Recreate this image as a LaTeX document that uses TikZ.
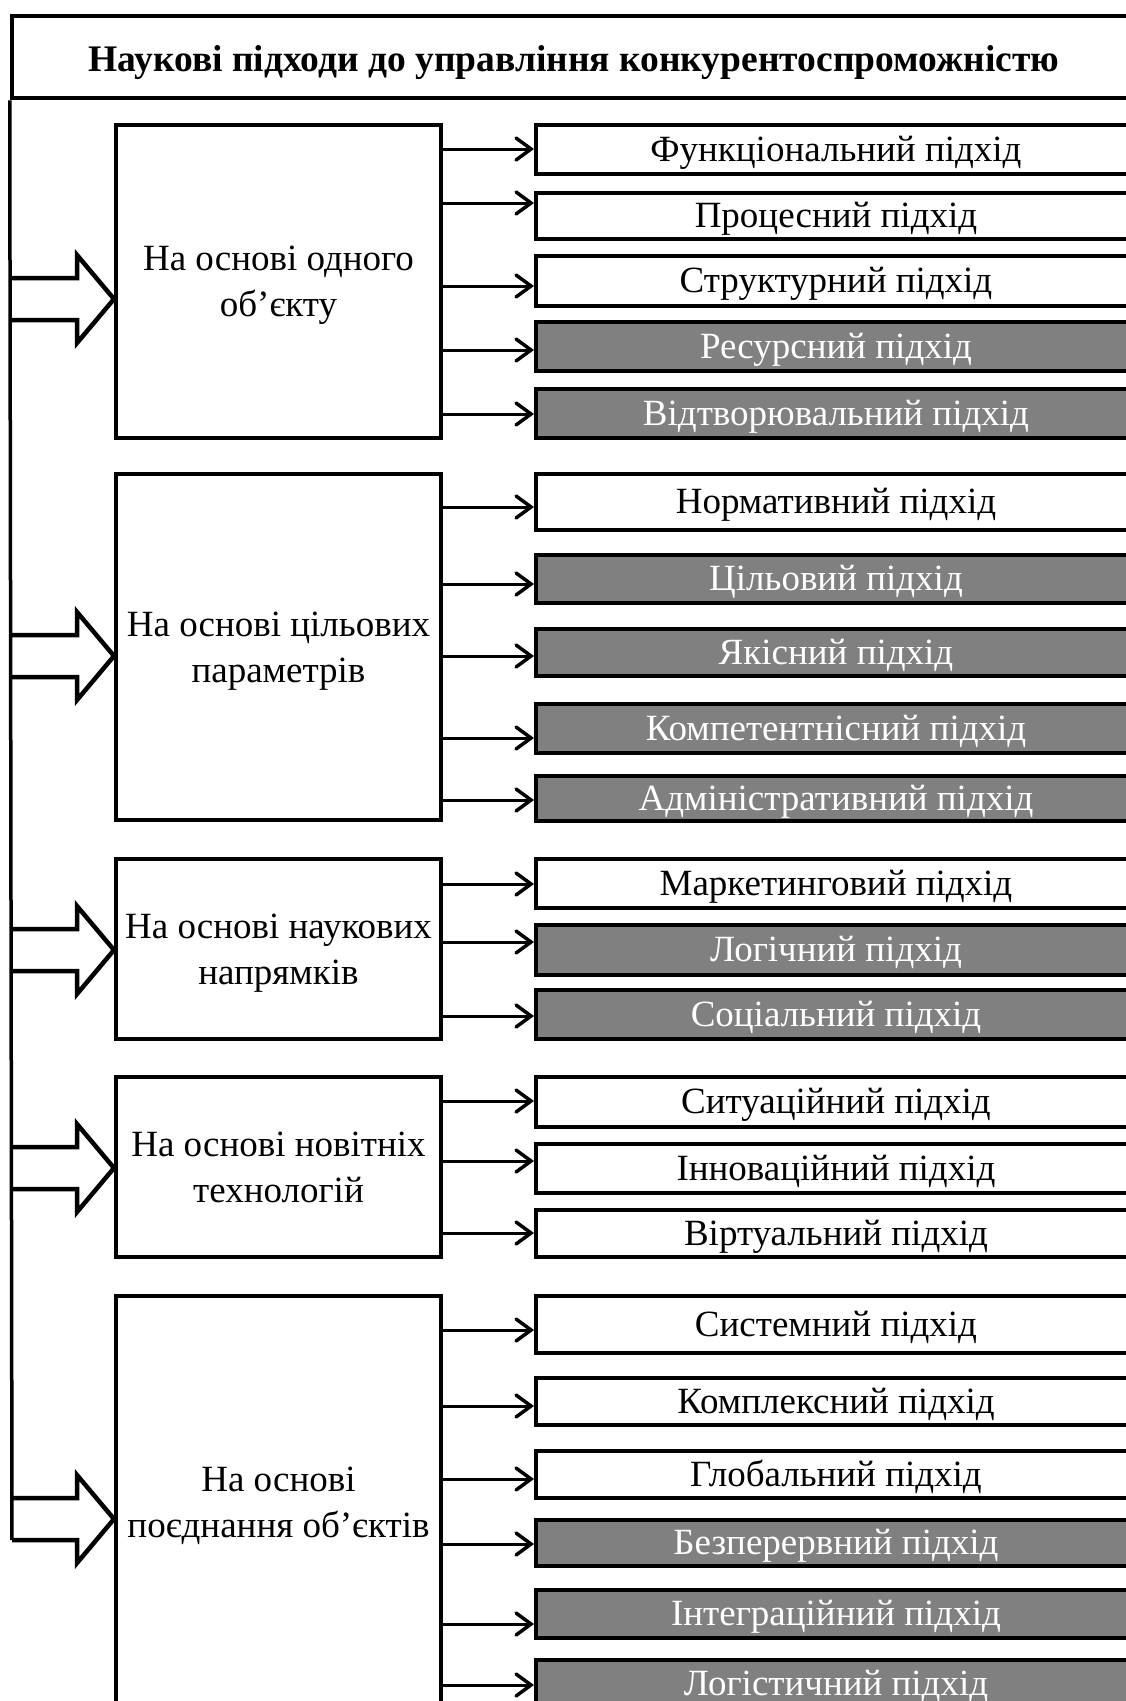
\documentclass[tikz,border=0pt]{standalone}
\usepackage{fontspec}
\setmainfont{Liberation Serif}
\usetikzlibrary{arrows.meta}
\definecolor{gfill}{RGB}{128,128,128}
\begin{document}
\begin{tikzpicture}[x=1pt,y=-1pt,
  box/.style={draw, line width=4pt, inner sep=0pt, align=center},
  rbox/.style={box, minimum width=600pt, anchor=west, font=\fontsize{37}{44}\selectfont, text height=29pt, text depth=6pt},
  wbox/.style={rbox, fill=white},
  gbox/.style={rbox, fill=gfill, text=white},
  lbox/.style={box, minimum width=325pt, font=\fontsize{37}{46}\selectfont, text depth=0pt},
  titlebox/.style={box, line width=4.5pt, minimum width=1124pt, minimum height=82pt, text height=31pt, text depth=2pt, font=\bfseries\fontsize{37.5}{44}\selectfont},
  conn/.style={line width=3pt, -{Straight Barb[length=15pt,width=22pt,line width=3.5pt,line cap=round]}},
  bigarrow/.style={draw, line width=4.5pt, line join=miter},
  vline/.style={line width=3.5pt}
]
\clip (0,0) rectangle (1126,1701);
\fill[white] (0,0) rectangle (1126,1701);

% title
\node[titlebox] (T) at (574,57) {Наукові підходи до управління конкурентоспроможністю};

% left boxes
\node[lbox, minimum height=313pt] (L1) at (278.5,281.5) {На основі одного\\об’єкту};
\node[lbox, minimum height=346pt] (L2) at (278.5,647) {На основі цільових\\параметрів};
\node[lbox, minimum height=180pt] (L3) at (278.5,949) {На основі наукових\\напрямків};
\node[lbox, minimum height=180pt] (L4) at (278.5,1167) {На основі новітніх\\технологій};
\node[lbox, minimum height=412pt] (L5) at (278.5,1502) {На основі\\поєднання об’єктів};

% right boxes
\node[wbox, minimum height=49pt] (R1) at (534,149.5) {Функціональний підхід};
\node[wbox, minimum height=46pt] (R2) at (534,216) {Процесний підхід};
\node[wbox, minimum height=50pt] (R3) at (534,281) {Структурний підхід};
\node[gbox, minimum height=49pt] (R4) at (534,346.5) {Ресурсний підхід};
\node[gbox, minimum height=49pt] (R5) at (534,413.5) {Відтворювальний підхід};

\node[wbox, minimum height=56pt] (R6) at (534,502) {Нормативний підхід};
\node[gbox, minimum height=48pt] (R7) at (534,579) {Цільовий підхід};
\node[gbox, minimum height=47pt] (R8) at (534,652.5) {Якісний підхід};
\node[gbox, minimum height=49pt] (R9) at (534,728.5) {Компетентнісний підхід};
\node[gbox, minimum height=45pt] (R10) at (534,798.5) {Адміністративний підхід};

\node[wbox, minimum height=49pt] (R11) at (534,883.5) {Маркетинговий підхід};
\node[gbox, minimum height=50pt] (R12) at (534,950) {Логічний підхід};
\node[gbox, minimum height=49pt] (R13) at (534,1014.5) {Соціальний підхід};

\node[wbox, minimum height=50pt] (R14) at (534,1102) {Ситуаційний підхід};
\node[wbox, minimum height=49pt] (R15) at (534,1168.5) {Інноваційний підхід};
\node[wbox, minimum height=47pt] (R16) at (534,1233.5) {Віртуальний підхід};

\node[wbox, minimum height=57pt] (R17) at (534,1324.5) {Системний підхід};
\node[wbox, minimum height=47pt] (R18) at (534,1401.5) {Комплексний підхід};
\node[wbox, minimum height=47pt] (R19) at (534,1474.5) {Глобальний підхід};
\node[gbox, minimum height=46pt] (R20) at (534,1543) {Безперервний підхід};
\node[gbox, minimum height=48pt] (R21) at (534,1614) {Інтеграційний підхід};
\node[gbox, minimum height=48pt] (R22) at (534,1684) {Логістичний підхід};

% vertical spine
\draw[vline] (T.south west) -- (12,1540);

% big hollow arrows
\foreach \n/\c in {1/299,2/656,3/950,4/1168,5/1519}{
  \draw[bigarrow] (12,\c-21) -- (77,\c-21) -- (77,\c-44) -- (L\n.west |- 0,\c)
     -- (77,\c+44) -- (77,\c+21) -- (12,\c+21);
}

% connectors
\foreach \l/\r/\y in {1/1/149,1/2/203,1/3/286,1/4/350,1/5/414,
                      2/6/507,2/7/584,2/8/656,2/9/738,2/10/800,
                      3/11/884,3/12/942,3/13/1016,
                      4/14/1101,4/15/1161,4/16/1233,
                      5/17/1330,5/18/1406,5/19/1479,5/20/1544,5/21/1624,5/22/1685}{
  \draw[conn] (L\l.east |- 0,\y) -- (R\r.west |- 0,\y);
}
\end{tikzpicture}
\end{document}
